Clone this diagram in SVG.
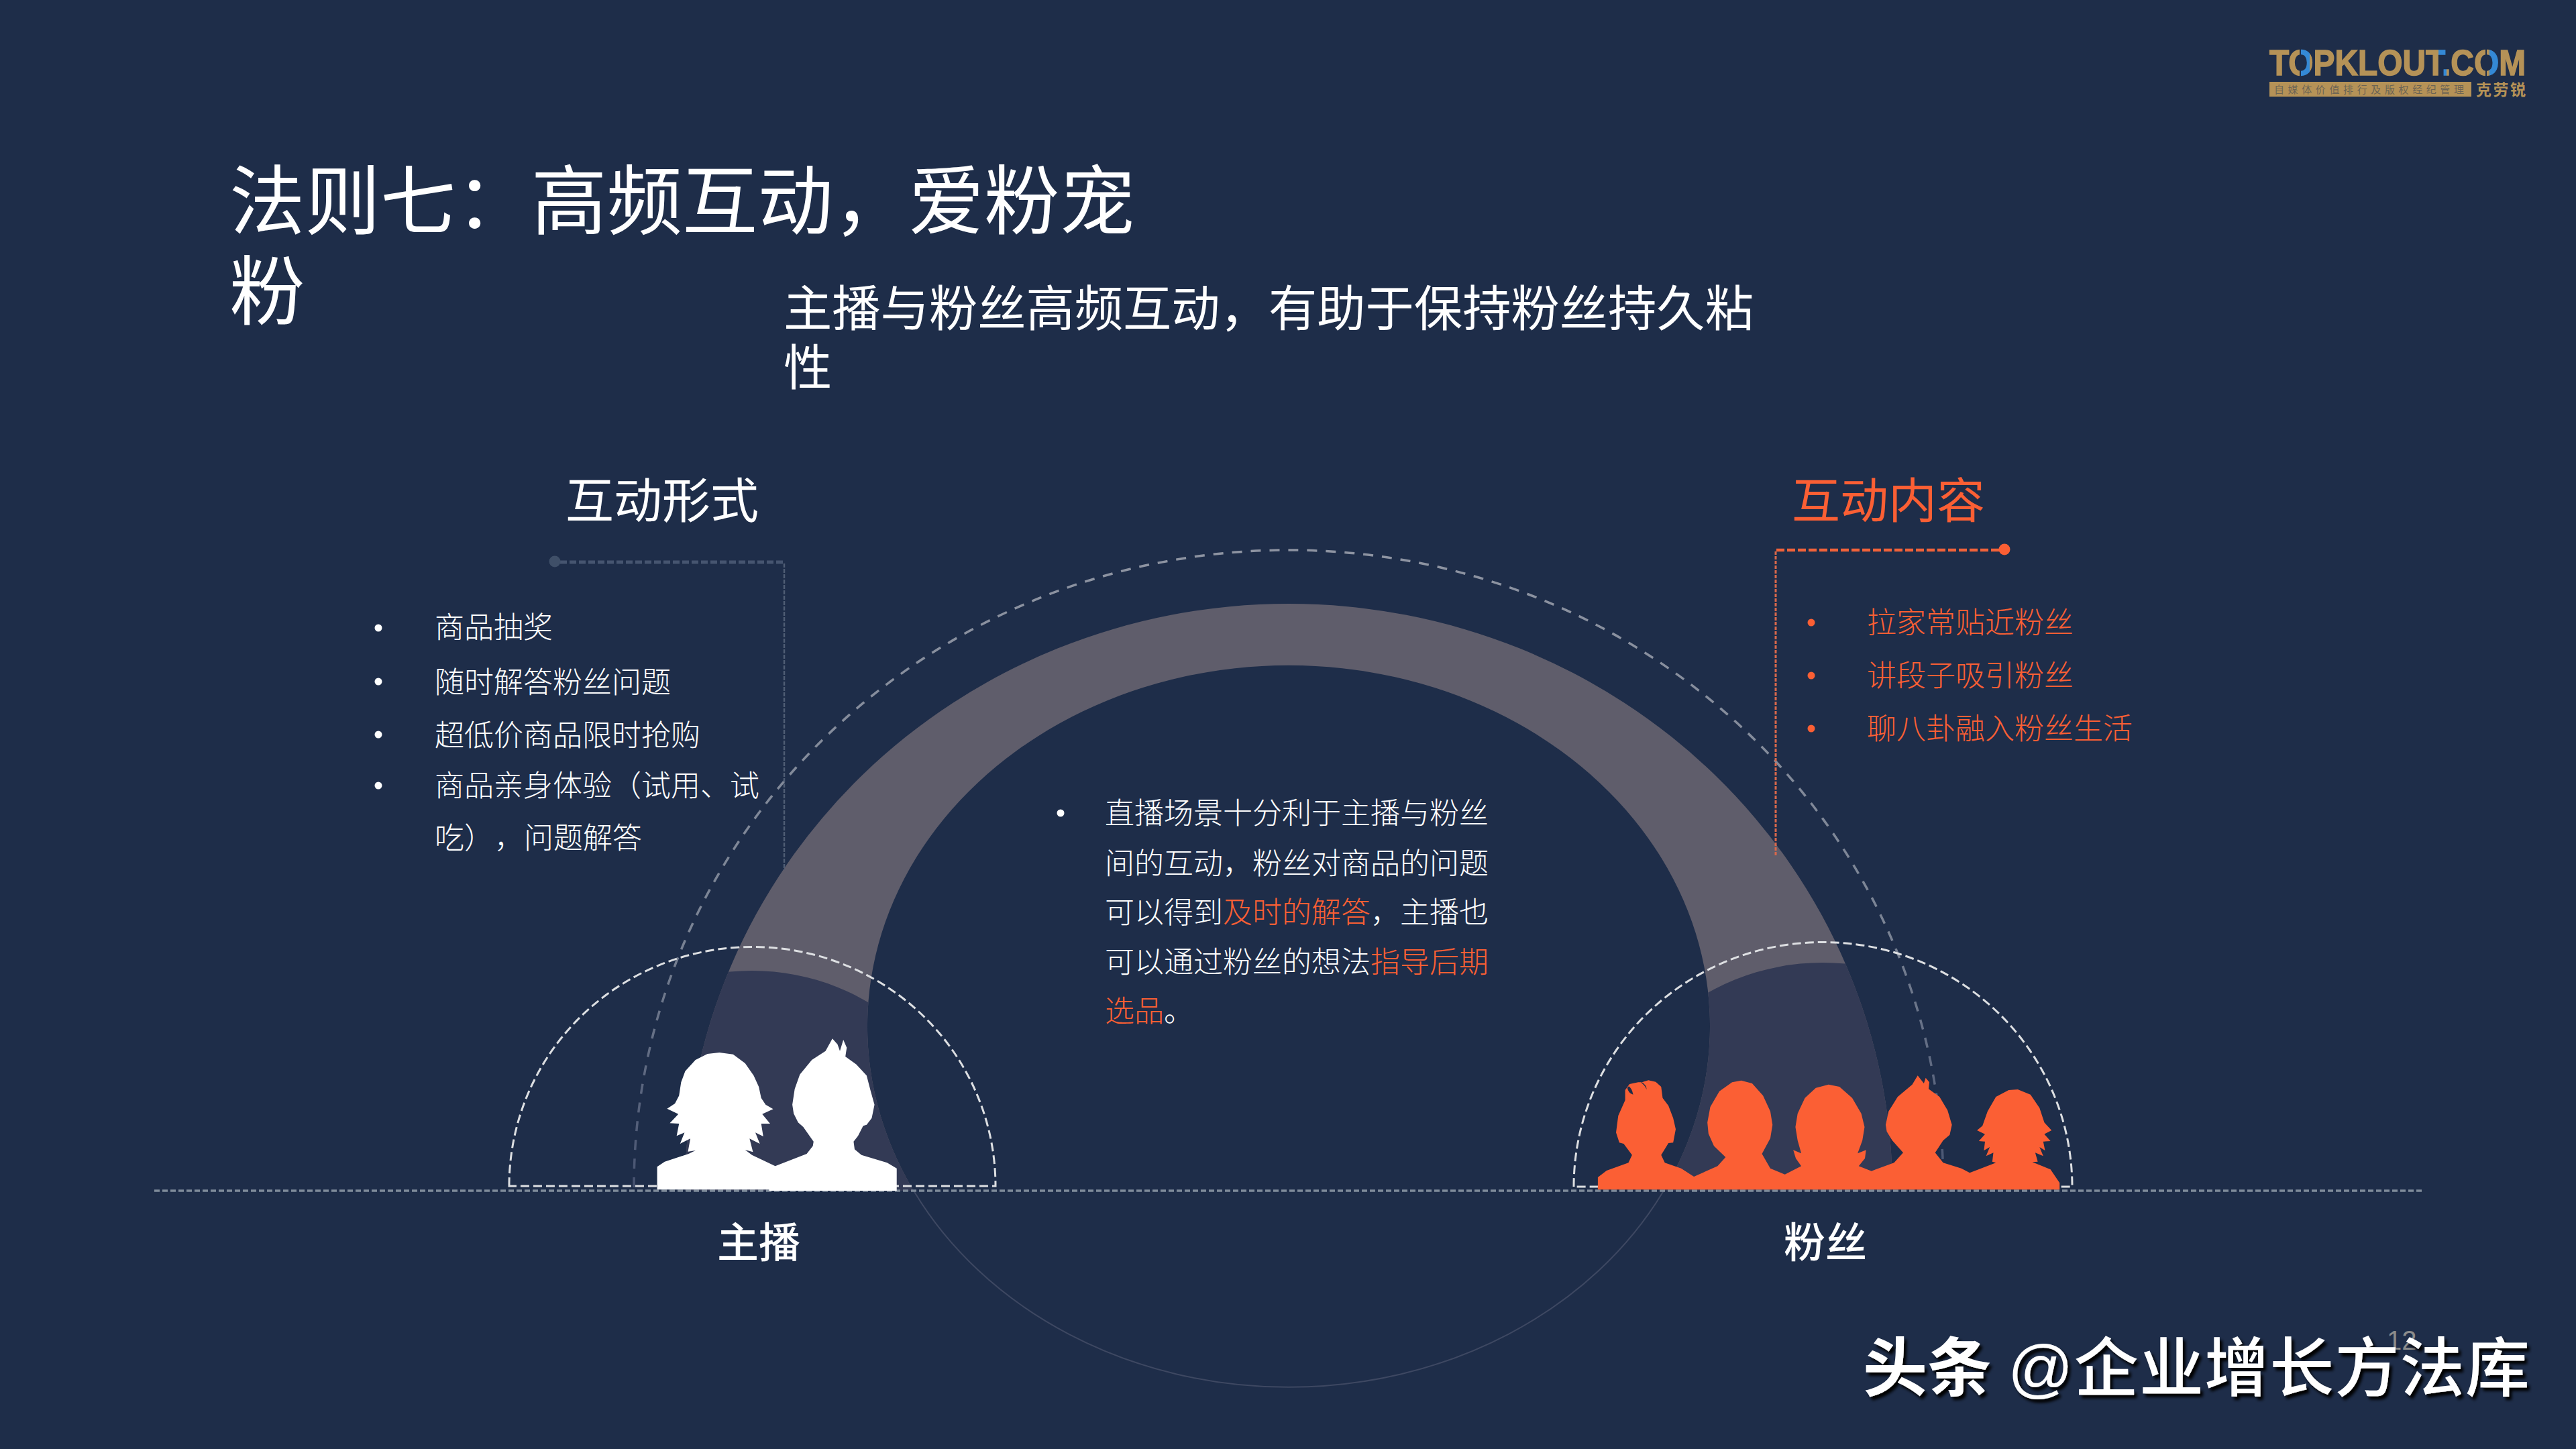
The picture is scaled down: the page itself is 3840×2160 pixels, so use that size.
<svg xmlns="http://www.w3.org/2000/svg" width="3840" height="2160" viewBox="0 0 3840 2160">
<style>
text{font-family:"Liberation Sans","Noto Sans CJK SC",sans-serif}
.w{fill:#fff}.o{fill:#FB5F34}
.b{font-size:44px;font-weight:300}
.h{font-size:72px}
.l{font-size:62px;font-weight:500}
.t{font-size:112.5px}
.s{font-size:72.3px}
.wm{font-size:96px;fill:#fff;font-weight:500;filter:url(#sh)}
.dome{fill:none;stroke:#DDDFE2;stroke-width:3;stroke-dasharray:13 6}
</style>
<defs>
<linearGradient id="big" gradientUnits="userSpaceOnUse" x1="0" y1="820" x2="0" y2="1775"><stop offset="0" stop-color="#8E94A2"/><stop offset=".6" stop-color="#7A8394"/><stop offset="1" stop-color="#465270"/></linearGradient>
<linearGradient id="lg" gradientUnits="userSpaceOnUse" x1="3383" y1="0" x2="3765" y2="0">
<stop offset="0" stop-color="#B59257"/><stop offset=".1204" stop-color="#B59257"/><stop offset=".1204" stop-color="#3489D6"/><stop offset=".158" stop-color="#3489D6"/><stop offset=".158" stop-color="#B59257"/>
<stop offset=".66" stop-color="#B59257"/><stop offset=".66" stop-color="#3489D6"/><stop offset=".69" stop-color="#3489D6"/><stop offset=".69" stop-color="#B59257"/>
<stop offset=".8575" stop-color="#B59257"/><stop offset=".8575" stop-color="#3489D6"/><stop offset=".8965" stop-color="#3489D6"/><stop offset=".8965" stop-color="#B59257"/>
</linearGradient>
<path id="archShape" d="M1021,1775 A900,875 0 0 1 2821,1775 L2480,1775 A628,538 0 1 0 1362,1775 Z"/>
<clipPath id="lower"><ellipse cx="1121" cy="1768" rx="332" ry="321"/><ellipse cx="2717" cy="1768" rx="341" ry="333"/></clipPath>
<filter id="sh" x="-5%" y="-10%" width="110%" height="125%"><feDropShadow dx="4" dy="5" stdDeviation="2" flood-color="#000"/></filter>
</defs>
<rect id="bg" width="3840" height="2160" fill="#1E2D49"/>

<g id="logo">
<text x="3383" y="112" font-size="54" font-weight="700" fill="url(#lg)" stroke="url(#lg)" stroke-width="1.5" textLength="382" lengthAdjust="spacingAndGlyphs">TOPKLOUT.COM</text>
<rect x="3428" y="72" width="2" height="42" fill="#1E2D49"/><rect x="3705" y="72" width="2" height="42" fill="#1E2D49"/>
<rect x="3383" y="122" width="301" height="22" fill="#B59257"/>
<text x="3390" y="139" font-size="15" fill="#6B6455" textLength="283">自媒体价值排行及版权经纪管理</text>
<text x="3691" y="142" font-size="23" font-weight="700" fill="#B59257" textLength="74">克劳锐</text>
</g>

<g id="title">
<text class="t w" x="342" y="340">法则七&#xFF1A;高频互动&#xFF0C;爱粉宠</text>
<text class="t w" x="342" y="475">粉</text>
</g>
<g id="subtitle">
<text class="s w" x="1168" y="486">主播与粉丝高频互动&#xFF0C;有助于保持粉丝持久粘</text>
<text class="s w" x="1168" y="574">性</text>
</g>

<g id="arch">
<use href="#archShape" fill="#5F5D6B"/>
<use href="#archShape" fill="#333A55" clip-path="url(#lower)"/>
<path d="M1362,1775 A628,538 0 0 0 2480,1775" fill="none" stroke="#3E4862" stroke-width="2"/>
</g>

<g id="connectors">
<path id="bigDashed" d="M945,1770 A976,950 0 0 1 2897,1770" fill="none" stroke="url(#big)" stroke-width="3.5" stroke-dasharray="15 13"/>
<path d="M835,838 H1169" fill="none" stroke="#465570" stroke-width="5" stroke-dasharray="10 4"/>
<path d="M1169,840 V1297" fill="none" stroke="#4F5D74" stroke-width="2.5" stroke-dasharray="6 2"/>
<circle cx="827" cy="837" r="8.5" fill="#3F4F68"/>
<path d="M2980,820 H2647" fill="none" stroke="#F0623A" stroke-width="4.5" stroke-dasharray="12 4"/>
<path d="M2647,822 V1276" fill="none" stroke="#D9684B" stroke-width="3" stroke-dasharray="5 2"/>
<circle cx="2988" cy="819" r="8.5" fill="#FB5F34"/>
<path id="ground" d="M230,1775 H3610" fill="none" stroke="#7F8B9A" stroke-width="3.5" stroke-dasharray="8 4"/>
<path class="dome" d="M759,1768 A362,356 0 0 1 1484,1768 Z"/>
<path class="dome" d="M2346,1769 A371,364 0 0 1 3089,1769 Z"/>
</g>

<g id="host" transform="translate(700 1380) scale(.5102 .3333)" fill="#fff">
<path d="M548,1180 L548,1078 L570,1055 L640,1020 L660,1005 L638,1010 L645,952 L615,975 L628,925 L605,940 L612,885 L585,883 L610,842 L577,818 L600,795 L612,760 L618,700 L630,650 L660,600 L695,573 L730,567 L770,575 L805,615 L830,670 L845,720 L852,770 L865,800 L887,820 L855,842 L878,885 L852,885 L858,942 L835,925 L848,975 L818,952 L828,1012 L805,1002 L825,1025 L893,1075 L985,1020 L1003,985 L1005,965 L975,900 L960,880 L947,840 L943,800 L950,730 L965,665 L1000,600 L1040,560 L1060,505 L1075,530 L1082,560 L1092,510 L1102,545 L1098,585 L1130,620 L1160,670 L1172,740 L1183,800 L1175,860 L1160,890 L1150,895 L1135,940 L1122,965 L1125,1000 L1145,1025 L1220,1060 L1248,1085 L1248,1185 L875,1185 L875,1180 Z"/>
</g>

<g id="fans" transform="translate(2300 1380) scale(.5424 .3333)" fill="#FB5F34">
<path fill-rule="evenodd" d="M151,1180 L151,1125 L175,1095 L235,1060 L245,1025 L222,975 L210,970 L201,925 L207,850 L226,780 L226,735 L238,708 L262,700 L272,700 L290,691 L310,698 L325,720 L329,770 L345,805 L358,860 L365,910 L358,970 L345,972 L325,1025 L335,1060 L380,1085 L415,1122 L480,1075 L502,1035 L470,985 L455,930 L452,880 L460,810 L485,740 L520,700 L545,692 L575,705 L605,760 L625,830 L631,890 L625,950 L602,1020 L625,1085 L665,1112 L710,1075 L695,1040 L688,1003 L710,1018 L700,960 L694,900 L700,840 L720,770 L750,725 L785,710 L815,720 L850,770 L875,840 L884,900 L878,960 L865,1018 L888,1003 L885,1040 L868,1075 L903,1097 L965,1060 L990,1015 L960,960 L945,920 L942,890 L950,830 L975,765 L1015,710 L1030,670 L1047,705 L1052,680 L1062,700 L1060,730 L1090,765 L1112,825 L1124,890 L1118,935 L1100,960 L1078,1015 L1100,1060 L1150,1085 L1173,1105 L1245,1060 L1235,1055 L1238,1015 L1218,1030 L1228,990 L1212,1005 L1215,965 L1198,963 L1215,932 L1193,915 L1208,895 L1222,830 L1245,765 L1280,735 L1305,732 L1340,755 L1365,815 L1378,880 L1398,915 L1378,932 L1395,963 L1375,965 L1380,1005 L1365,990 L1375,1030 L1353,1015 L1360,1055 L1345,1057 L1395,1090 L1420,1150 L1420,1180 Z M232,725 Q235,750 248,755 Q245,728 236,718 Z M272,700 Q285,712 285,733 Q280,712 270,702 Z"/>
</g>

<g id="label-form">
<text class="h w" x="843" y="772">互动形式</text>
</g>
<g id="label-content">
<text class="h o" x="2671" y="772">互动内容</text>
</g>

<g id="list-form" class="w">
<circle cx="564" cy="936" r="5.5"/><circle cx="564" cy="1016" r="5.5"/><circle cx="564" cy="1095" r="5.5"/><circle cx="564" cy="1171" r="5.5"/>
<text class="b" x="648" y="951">商品抽奖</text>
<text class="b" x="648" y="1033">随时解答粉丝问题</text>
<text class="b" x="648" y="1112">超低价商品限时抢购</text>
<text class="b" x="648" y="1187">商品亲身体验&#xFF08;试用、试</text>
<text class="b" x="648" y="1265">吃&#xFF09;<tspan x="737">&#xFF0C;</tspan><tspan x="781">问题解答</tspan></text>
</g>

<g id="list-content" class="o">
<circle cx="2700" cy="928" r="5.5"/><circle cx="2700" cy="1007" r="5.5"/><circle cx="2700" cy="1086" r="5.5"/>
<text class="b" x="2783" y="944">拉家常贴近粉丝</text>
<text class="b" x="2783" y="1023">讲段子吸引粉丝</text>
<text class="b" x="2783" y="1102">聊八卦融入粉丝生活</text>
</g>

<g id="center-text" class="w">
<circle cx="1581" cy="1212" r="5.5"/>
<text class="b" x="1647" y="1228">直播场景十分利于主播与粉丝</text>
<text class="b" x="1647" y="1303">间的互动&#xFF0C;粉丝对商品的问题</text>
<text class="b" x="1647" y="1376">可以得到<tspan class="o">及时的解答</tspan>&#xFF0C;主播也</text>
<text class="b" x="1647" y="1450">可以通过粉丝的想法<tspan class="o">指导后期</tspan></text>
<text class="b" x="1647" y="1523"><tspan class="o">选品</tspan>。</text>
</g>

<g id="label-host"><text class="l w" x="1069" y="1875">主播</text></g>
<g id="label-fans"><text class="l w" x="2659" y="1875">粉丝</text></g>

<text id="page" x="3558" y="2012" font-size="40" fill="#8C8C8C">12</text>
<g id="watermark">
<text class="wm" x="2777" y="2073" style="font-weight:700">头条</text>
<text class="wm" x="2993" y="2073" textLength="778">@企业增长方法库</text>
</g>
</svg>
